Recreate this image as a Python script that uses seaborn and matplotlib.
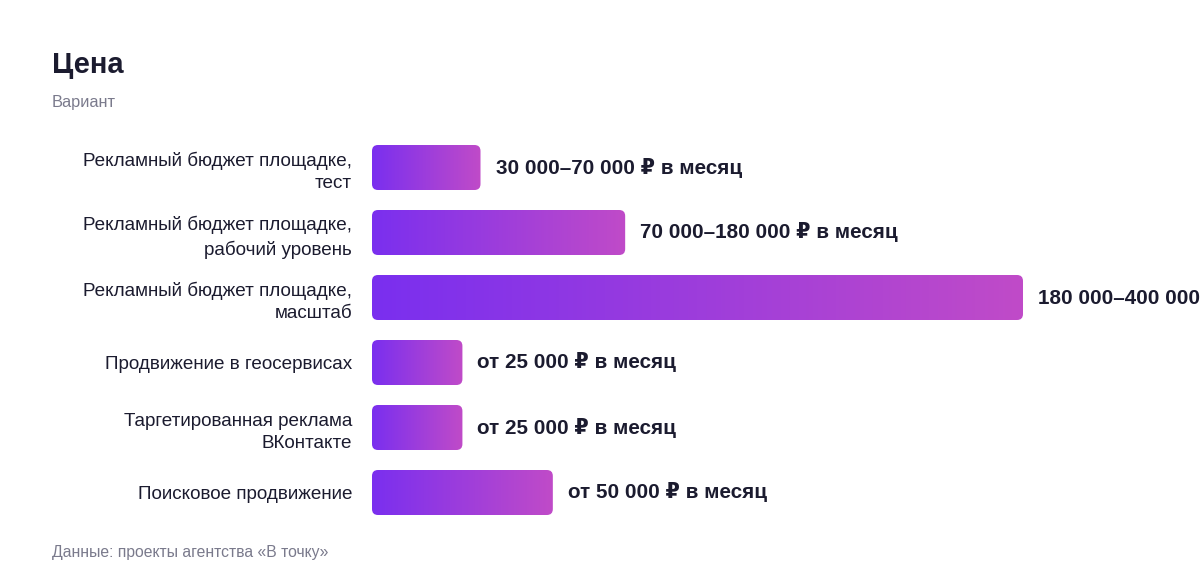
import numpy as np
import pandas as pd
import matplotlib
matplotlib.use("Agg")
import matplotlib.pyplot as plt
import seaborn as sns
from matplotlib.patches import FancyBboxPatch
from matplotlib.colors import LinearSegmentedColormap

categories = [
    "Рекламный бюджет площадке,\nтест",
    "Рекламный бюджет площадке,\nрабочий уровень",
    "Рекламный бюджет площадке,\nмасштаб",
    "Продвижение в геосервисах",
    "Таргетированная реклама\nВКонтакте",
    "Поисковое продвижение",
]
values = [30000, 70000, 180000, 25000, 25000, 50000]
value_labels = [
    "30 000–70 000 ₽ в месяц",
    "70 000–180 000 ₽ в месяц",
    "180 000–400 000 ₽ в месяц",
    "от 25 000 ₽ в месяц",
    "от 25 000 ₽ в месяц",
    "от 50 000 ₽ в месяц",
]
title = "Цена"
subtitle = "Вариант"
footer = "Данные: проекты агентства «В точку»"

sns.set_theme(style="white")
plt.rcParams['font.family'] = ['Liberation Sans', 'DejaVu Sans']

W, H = 1200, 584
fig = plt.figure(figsize=(W / 100, H / 100), dpi=100)
fig.patch.set_facecolor("white")

ax_left, ax_top, ax_w, ax_h = 372, 135, 651, 390
ax = fig.add_axes([ax_left / W, 1 - (ax_top + ax_h) / H, ax_w / W, ax_h / H])

df = pd.DataFrame({"cat": categories, "val": values})
sns.barplot(data=df, x="val", y="cat", orient="h", ax=ax,
            width=45 / 65, color="#7B2FF0")

xmax = max(values)
ax.set_xlim(0, xmax)
ylim = (len(categories) - 0.5, -0.5)
ax.set_ylim(*ylim)

cmap = LinearSegmentedColormap.from_list("g", ["#7A2FEF", "#C04BC8"])
grad = np.linspace(0, 1, 256).reshape(1, -1)

px_x = ax_w / xmax           # pixels per x data unit
px_y = ax_h / len(categories)  # pixels per y data unit
r_px = 6
aspect = (1 / px_y) / (1 / px_x)

text_color = "#1B1B2F"
bars = list(ax.patches)
for p, lab in zip(bars, value_labels):
    x0, y0, w, h = p.get_x(), p.get_y(), p.get_width(), p.get_height()
    p.set_visible(False)
    fb = FancyBboxPatch((x0, y0), w, h,
                        boxstyle=f"round,pad=0,rounding_size={r_px / px_x}",
                        mutation_aspect=aspect, facecolor="none",
                        edgecolor="none", transform=ax.transData)
    ax.add_patch(fb)
    im = ax.imshow(grad, cmap=cmap, extent=[x0, x0 + w, y0 + h, y0],
                   aspect="auto", interpolation="bilinear", zorder=2)
    im.set_clip_path(fb)
    ax.annotate(lab, xy=(x0 + w, y0 + h / 2), xytext=(15, 0),
                textcoords="offset pixels", ha="left", va="center",
                fontsize=14.9, fontweight="bold", color=text_color,
                annotation_clip=False, clip_on=False)

ax.set_xlim(0, xmax)
ax.set_ylim(*ylim)
for s in ax.spines.values():
    s.set_visible(False)
ax.set_xticks([])
ax.set_xlabel("")
ax.set_ylabel("")
ax.tick_params(axis="y", length=0, pad=20 * 0.72, labelsize=13.6,
               labelcolor=text_color)
for t in ax.get_yticklabels():
    t.set_linespacing(1.4)

fig.text(52 / W, 1 - 65 / H, title, fontsize=21, fontweight="bold",
         color=text_color, ha="left", va="center")
fig.text(52 / W, 1 - 102 / H, subtitle, fontsize=11.8, color="#7A7A8C",
         ha="left", va="center")
fig.text(52 / W, 1 - 552 / H, footer, fontsize=11.3, color="#7A7A8C",
         ha="left", va="center")

fig.savefig("out.png", dpi=100)
